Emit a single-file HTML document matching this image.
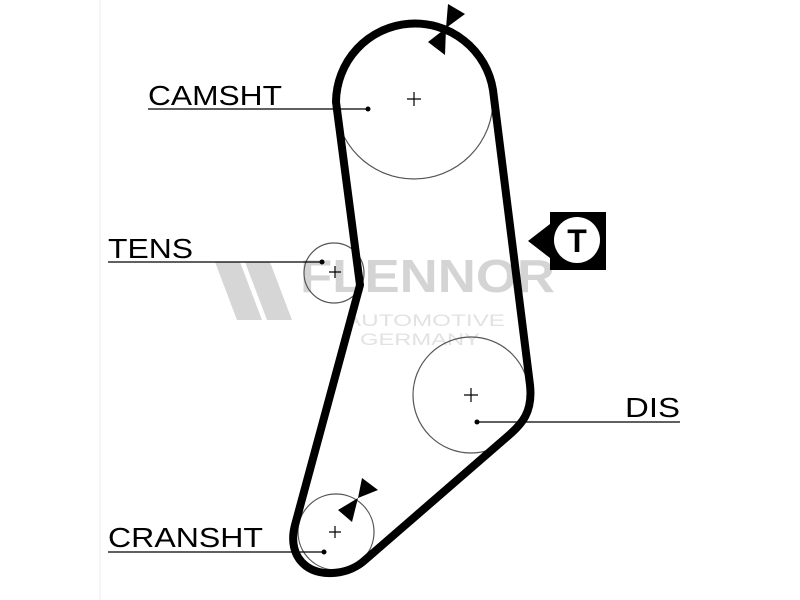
<!DOCTYPE html>
<html><head><style>
html,body{margin:0;padding:0;background:#fff;width:800px;height:600px;overflow:hidden}
svg{display:block}
text{font-family:"Liberation Sans",sans-serif}
</style></head><body>
<svg width="800" height="600" viewBox="0 0 800 600" xmlns="http://www.w3.org/2000/svg">
<rect width="800" height="600" fill="#fff"/>
<line x1="100" y1="0" x2="100" y2="600" stroke="#eee" stroke-width="1"/>
<g fill="#d6d6d6">
<polygon points="215,262 240,262 262,320 237,320"/>
<polygon points="245,262 270,262 292,320 267,320"/>
<text x="300" y="292" font-size="46" font-weight="bold" fill="#d4d4d4" textLength="255" lengthAdjust="spacingAndGlyphs">FLENNOR</text>
<text x="345" y="326" font-size="17" fill="#e2e2e2" textLength="160" lengthAdjust="spacingAndGlyphs">AUTOMOTIVE</text>
<text x="360" y="345" font-size="17" fill="#e2e2e2" textLength="120" lengthAdjust="spacingAndGlyphs">GERMANY</text>
</g>
<g fill="none" stroke="#555" stroke-width="1.2">
<circle cx="414" cy="100" r="79"/>
<circle cx="334" cy="273" r="30"/>
<circle cx="471" cy="395" r="58"/>
<circle cx="336" cy="532" r="38"/>
</g>
<path d="M336,102 A79,79 0 0 1 493,90 L530,385 C533,412 522,424 508,436 L365,560 C350,574 322,578 306,566 C293,556 291,540 295,525 L360,285 Z" fill="none" stroke="#000" stroke-width="8" stroke-linejoin="round"/>
<g stroke="#000" stroke-width="1.2">
<path d="M407,99h14M414,92v14"/>
<path d="M329,272h12M335,266v12"/>
<path d="M464,395h14M471,388v14"/>
<path d="M329,532h12M335,526v12"/>
</g>
<g stroke="#000" stroke-width="1.2">
<line x1="148" y1="109" x2="368" y2="109"/>
<line x1="108" y1="262" x2="322" y2="262"/>
<line x1="477" y1="422" x2="680" y2="422"/>
<line x1="108" y1="552" x2="324" y2="552"/>
</g>
<g fill="#000">
<circle cx="368" cy="109" r="2.5"/><circle cx="322" cy="262" r="2.5"/>
<circle cx="477" cy="422" r="2.5"/><circle cx="324" cy="552" r="2.5"/>
</g>
<g font-size="28" fill="#000">
<text x="148" y="105" textLength="134" lengthAdjust="spacingAndGlyphs">CAMSHT</text>
<text x="108" y="258" textLength="85" lengthAdjust="spacingAndGlyphs">TENS</text>
<text x="625" y="417" textLength="55" lengthAdjust="spacingAndGlyphs">DIS</text>
<text x="108" y="547" textLength="155" lengthAdjust="spacingAndGlyphs">CRANSHT</text>
</g>
<g fill="#000">
<polygon points="446,28 448,4 465,14"/>
<polygon points="446,28 428,42 445,55"/>
<polygon points="358,498 362,478 378,490"/>
<polygon points="358,498 338,510 352,522"/>
</g>
<polygon points="550,212 606,212 606,270 550,270 550,258 528,241 550,224" fill="#000"/>
<circle cx="577" cy="240" r="23" fill="#fff"/>
<text x="577" y="252" font-size="32" font-weight="bold" text-anchor="middle" fill="#000">T</text>
</svg>
</body></html>
